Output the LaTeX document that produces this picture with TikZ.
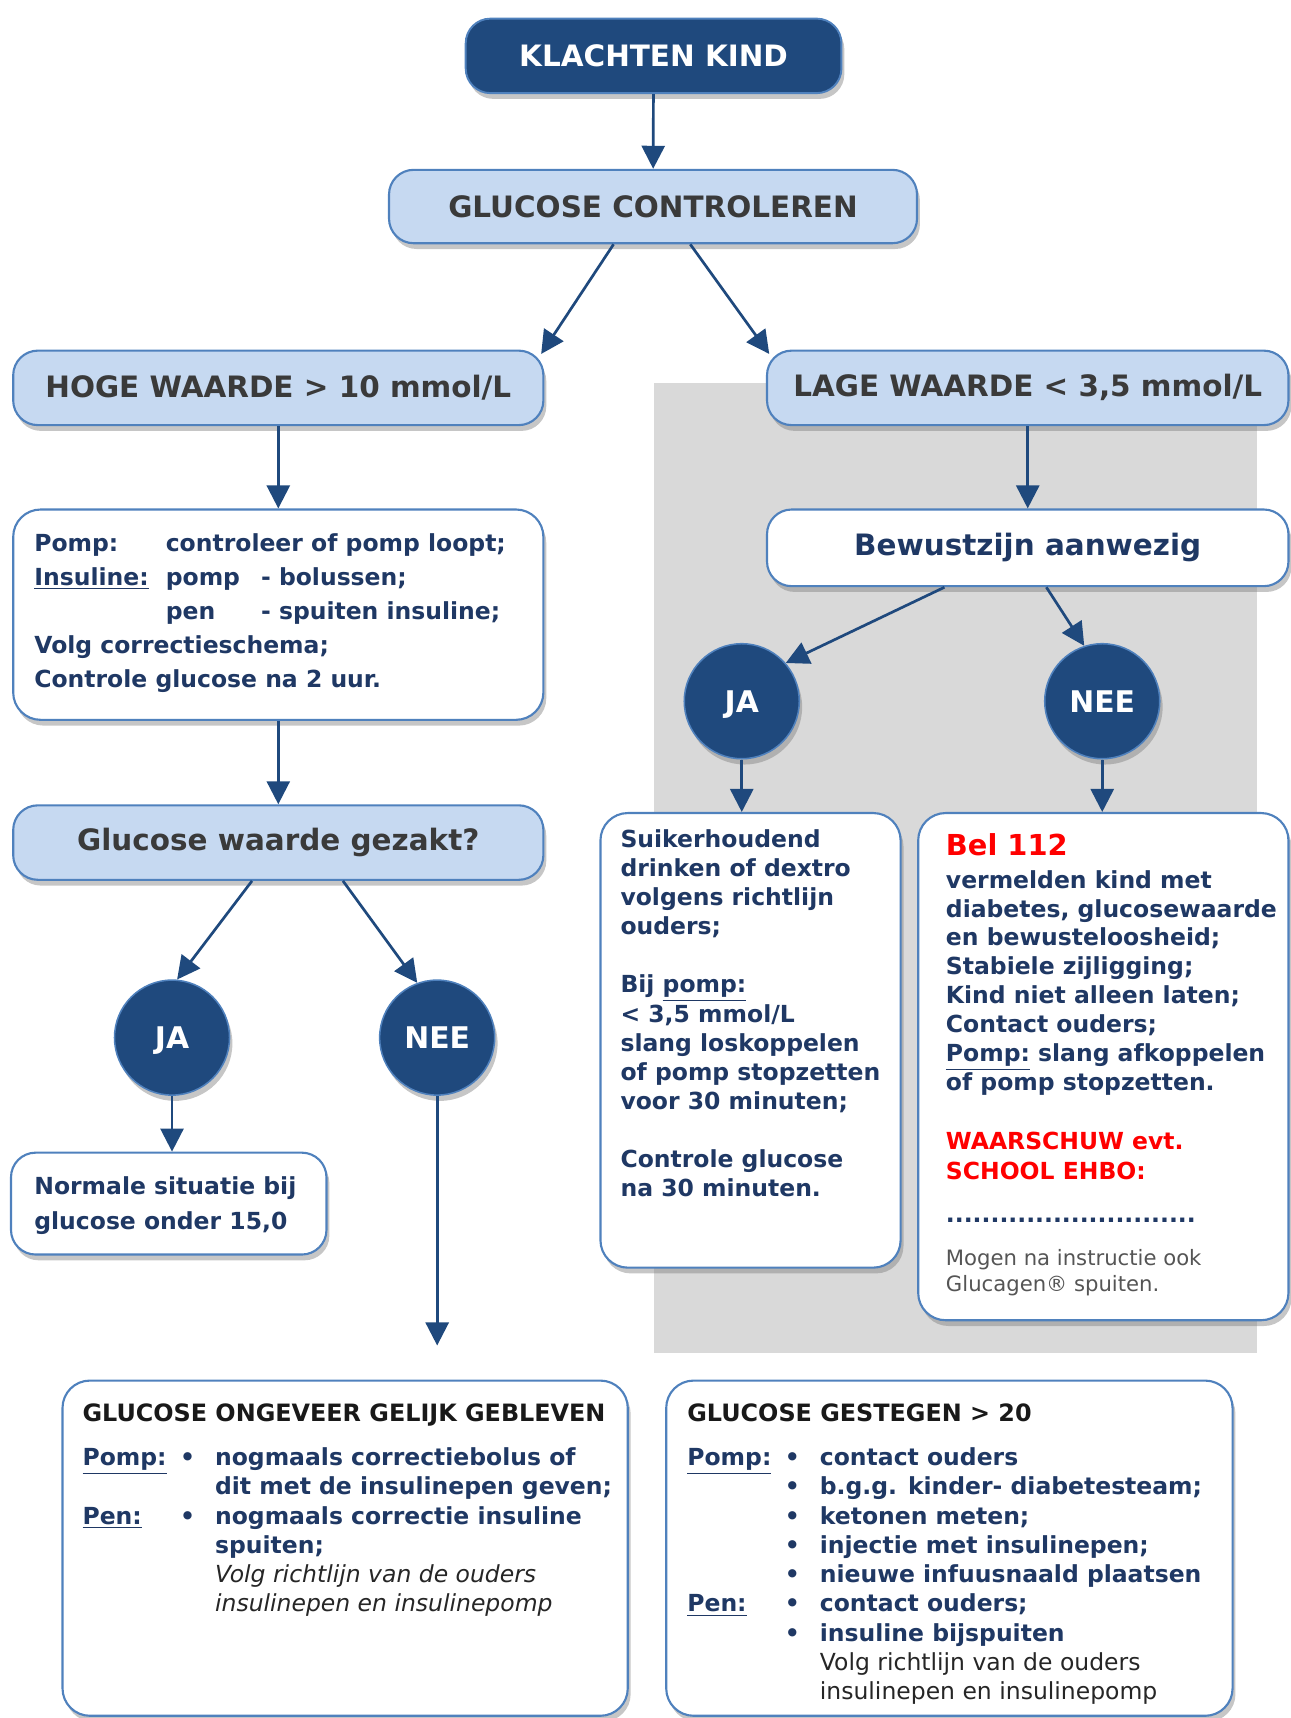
\documentclass[tikz,border=0pt]{standalone}
\usepackage{fontspec}
\setmainfont{DejaVu Sans}
\usetikzlibrary{arrows.meta,calc,shadows}

\definecolor{darkblue}{HTML}{1F497D}
\definecolor{edgeblue}{HTML}{4F81BD}
\definecolor{paleblue}{HTML}{C6D9F1}
\definecolor{navytext}{HTML}{1F3864}
\definecolor{titlegray}{HTML}{3A3A3A}
\definecolor{panelgray}{HTML}{D9D9D9}
\definecolor{notegray}{HTML}{555555}
\definecolor{alarmred}{HTML}{FF0000}

\newcommand{\titlefont}{\fontsize{15.3}{18}\selectfont\bfseries}
\newcommand{\bodyfont}[1]{\fontsize{12.2}{#1}\selectfont\bfseries}
\newcommand{\labelcol}[1]{\makebox[1.78cm][l]{#1}\makebox[0.64cm][l]{\textbullet}}

\tikzset{
  boxshadow/.style={drop shadow={shadow xshift=1.5pt, shadow yshift=-3pt, opacity=0.45}},
  startbox/.style={rectangle, rounded corners=0.45cm, fill=darkblue, draw=edgeblue, line width=1pt,
    text=white, font=\titlefont, boxshadow},
  headbox/.style={rectangle, rounded corners=0.45cm, fill=paleblue, draw=edgeblue, line width=1.1pt,
    text=titlegray, font=\titlefont, boxshadow},
  infobox/.style={rectangle, rounded corners=0.5cm, fill=white, draw=edgeblue, line width=1.1pt, boxshadow},
  answer/.style={circle, minimum size=2.1cm, inner sep=0pt, fill=darkblue, draw=edgeblue, line width=0.8pt,
    text=white, font=\fontsize{15.5}{18}\selectfont\bfseries, text depth=0pt, boxshadow},
  bodytext/.style={anchor=north west, inner sep=0pt, align=left, text=navytext},
  arr/.style={-{Triangle[length=0.42cm, width=0.42cm]}, line width=1.4pt, color=darkblue},
}

\begin{document}
\begin{tikzpicture}[x=0.02cm, y=-0.02cm]
  \useasboundingbox (0,0) rectangle (1178,1568);
  % grey panel behind the low branch
  \fill[panelgray] (597,350) rectangle (1147,1235);

  % top of the chart
  \node[startbox, minimum width=6.86cm, minimum height=1.36cm] (klacht) at (596.5,51) {KLACHTEN KIND};
  \node[headbox, minimum width=9.64cm, minimum height=1.34cm] (glucose) at (596,188.5) {GLUCOSE CONTROLEREN};
  \node[headbox, minimum width=9.68cm, minimum height=1.36cm] (hoog) at (254,354) {HOGE WAARDE > 10 mmol/L};
  \node[headbox, minimum width=9.52cm, minimum height=1.36cm] (laag) at (938,354) {LAGE WAARDE < 3,5 mmol/L};

  % high value branch
  \node[infobox, minimum width=9.68cm, minimum height=3.84cm] (pomp) at (254,561) {};
  \node[bodytext, font=\bodyfont{17.6}] (pomptekst) at (31,487) {%
    \makebox[2.4cm][l]{Pomp:}controleer of pomp loopt;\\
    \makebox[2.4cm][l]{\underline{Insuline:}}\makebox[1.74cm][l]{pomp}- bolussen;\\
    \hspace*{2.4cm}\makebox[1.74cm][l]{pen}- spuiten insuline;\\
    Volg correctieschema;\\
    Controle glucose na 2 uur.};
  \node[headbox, minimum width=9.68cm, minimum height=1.36cm] (gezakt) at (254,769) {Glucose waarde gezakt?};
  \node[answer] (ja1) at (157,947) {JA};
  \node[answer] (nee1) at (399,947) {NEE};
  \node[infobox, rounded corners=0.45cm, minimum width=5.76cm, minimum height=1.86cm] (normaal) at (154,1098.5) {};
  \node[bodytext, font=\bodyfont{18.1}] (normaaltekst) at (31,1074) {Normale situatie bij\\ glucose onder 15,0};
  \coordinate (nee1eind) at (399,1228);

  % bottom boxes
  \node[infobox, minimum width=10.32cm, minimum height=6.12cm] (gelijk) at (315,1413) {};
  \node[anchor=base west, inner sep=0pt, text=black!90, font=\fontsize{12.4}{15}\selectfont\bfseries]
    (gelijkkop) at (75,1297) {GLUCOSE ONGEVEER GELIJK GEBLEVEN};
  \node[bodytext, font=\bodyfont{15.2}] (gelijktekst) at (75,1321) {%
    \labelcol{\underline{Pomp:}}nogmaals correctiebolus of\\
    \hspace*{2.42cm}dit met de insulinepen geven;\\
    \labelcol{\underline{Pen:}}nogmaals correctie insuline\\
    \hspace*{2.42cm}spuiten;\\
    \hspace*{2.42cm}{\mdseries\itshape\color{black!85}Volg richtlijn van de ouders}\\
    \hspace*{2.42cm}{\mdseries\itshape\color{black!85}insulinepen en insulinepomp}};
  \node[infobox, minimum width=10.34cm, minimum height=6.12cm] (gestegen) at (866.5,1413) {};
  \node[anchor=base west, inner sep=0pt, text=black!90, font=\fontsize{12.4}{15}\selectfont\bfseries]
    (gestegenkop) at (627,1297) {GLUCOSE GESTEGEN > 20};
  \node[bodytext, font=\bodyfont{15.2}] (gestegentekst) at (627,1321) {%
    \labelcol{\underline{Pomp:}}contact ouders\\
    \labelcol{}b.g.g. kinder- diabetesteam;\\
    \labelcol{}ketonen meten;\\
    \labelcol{}injectie met insulinepen;\\
    \labelcol{}nieuwe infuusnaald plaatsen\\
    \labelcol{\underline{Pen:}}contact ouders;\\
    \labelcol{}insuline bijspuiten\\
    \hspace*{2.42cm}{\mdseries\color{black!85}Volg richtlijn van de ouders}\\
    \hspace*{2.42cm}{\mdseries\color{black!85}insulinepen en insulinepomp}};

  % low value branch
  \node[infobox, rounded corners=0.45cm, minimum width=9.52cm, minimum height=1.4cm, text=navytext,
    font=\titlefont] (bewust) at (938,500) {Bewustzijn aanwezig};
  \node[answer] (ja2) at (677,640) {JA};
  \node[answer] (nee2) at (1006,640) {NEE};
  \node[infobox, minimum width=5.48cm, minimum height=8.3cm] (suiker) at (685,949.5) {};
  \node[bodytext, font=\bodyfont{15.1}] (suikertekst) at (566,757) {%
    Suikerhoudend\\ drinken of dextro\\ volgens richtlijn\\ ouders;\\[15.1pt]
    Bij \underline{pomp:}\\ < 3,5 mmol/L\\ slang loskoppelen\\ of pomp stopzetten\\ voor 30 minuten;\\[15.1pt]
    Controle glucose\\ na 30 minuten.};
  \node[infobox, minimum width=6.76cm, minimum height=9.26cm] (bel) at (1007,973.5) {};
  \node[anchor=base west, inner sep=0pt, text=alarmred, font=\fontsize{15}{18}\selectfont\bfseries]
    (beltitel) at (863,781) {Bel 112};
  \node[bodytext, font=\bodyfont{15}] (beltekst) at (863,794) {%
    vermelden kind met\\ diabetes, glucosewaarde\\ en bewusteloosheid;\\ Stabiele zijligging;\\
    Kind niet alleen laten;\\ Contact ouders;\\ \underline{Pomp:} slang afkoppelen\\ of pomp stopzetten.};
  \node[bodytext, text=alarmred, font=\bodyfont{15.4}] (waarschuw) at (863,1033) {WAARSCHUW evt.\\ SCHOOL EHBO:};
  \node[anchor=base west, inner sep=0pt, text=navytext, font=\bodyfont{15}] (stippel) at (863,1116)
    {............................};
  \node[bodytext, text=notegray, font=\fontsize{11}{13.7}\selectfont] (glucagen) at (863,1140)
    {Mogen na instructie ook\\ Glucagen® spuiten.};

  % connectors
  \draw[arr] (klacht) -- (glucose);
  \draw[arr] ($(glucose.south)+(-36,0)$) -- ($(hoog.north east)+(-3,4)$);
  \draw[arr] ($(glucose.south)+(34,0)$) -- ($(laag.north west)+(3,4)$);
  \draw[arr] (hoog) -- (pomp);
  \draw[arr] (pomp) -- (gezakt);
  \draw[arr] ($(gezakt.south)+(-24,0)$) -- (ja1.85);
  \draw[arr] ($(gezakt.south)+(59,0)$) -- (nee1.110);
  \draw[arr] (ja1.south) -- (ja1.south |- normaal.north);
  \draw[arr] (nee1.south) -- (nee1eind);
  \draw[arr] (laag) -- (bewust);
  \draw[arr] ($(bewust.south)+(-76,0)$) -- (ja2.41);
  \draw[arr] ($(bewust.south)+(17,0)$) -- (nee2.108);
  \draw[arr] (ja2.south) -- (ja2.south |- suiker.north);
  \draw[arr] (nee2.south) -- (nee2.south |- bel.north);
\end{tikzpicture}
\end{document}
